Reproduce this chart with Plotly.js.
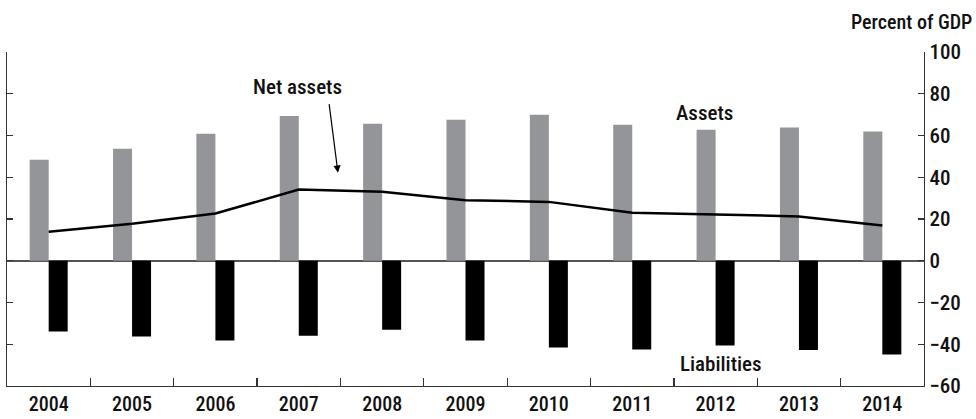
<!DOCTYPE html>
<html>
<head>
<meta charset="utf-8">
<script src="https://cdn.plot.ly/plotly-3.0.1.min.js"></script>
<style>html,body{margin:0;padding:0;background:#fff;}#chart{width:976px;height:419px;}</style>
</head>
<body>
<div id="chart"></div>
<script>
const years = ["2004","2005","2006","2007","2008","2009","2010","2011","2012","2013","2014"];
const assets = [48.4, 53.6, 60.8, 69.4, 65.6, 67.5, 69.9, 65.1, 62.7, 63.8, 61.9];
const liabilities = [-33.9, -36.3, -38.2, -35.9, -33.0, -38.2, -41.6, -42.5, -40.6, -42.8, -44.9];
const netAssets = [13.9, 17.7, 22.6, 34.1, 33.0, 29.0, 28.2, 23.0, 22.2, 21.2, 16.9];
const yTicks = [-60, -40, -20, 0, 20, 40, 60, 80, 100];

const FONT = '"Roboto Condensed", "Roboto", sans-serif';
function f(size) { return {family: FONT, size: size, color: '#111', weight: 500}; }

const traces = [
  {type: 'bar', x: years, y: assets, name: 'Assets', marker: {color: '#939598'}, hoverinfo: 'none'},
  {type: 'bar', x: years, y: liabilities, name: 'Liabilities', marker: {color: '#000000'}, hoverinfo: 'none'},
  {type: 'scatter', mode: 'lines', x: years, y: netAssets, name: 'Net assets', line: {color: '#000', width: 2.5}, hoverinfo: 'none'}
];

const layout = {
  width: 976, height: 419,
  margin: {l: 7, r: 52, t: 52, b: 33},
  paper_bgcolor: '#fff', plot_bgcolor: '#fff',
  showlegend: false,
  barmode: 'group', bargap: 0.544, bargroupgap: 0,
  font: f(21),
  xaxis: {
    type: 'category', showgrid: false, zeroline: false,
    showline: true, linecolor: '#333', linewidth: 1.2,
    ticks: 'inside', tickson: 'boundaries', ticklen: 8, tickcolor: '#333', tickwidth: 1.2,
    tickfont: f(20), ticklabelstandoff: 0
  },
  yaxis: {
    range: [-60, 100], side: 'right', tickvals: yTicks,
    showgrid: false, zeroline: true, zerolinecolor: '#555', zerolinewidth: 1.5,
    showline: true, linecolor: '#333', linewidth: 1.2, mirror: 'ticks',
    ticks: 'inside', ticklen: 6, tickcolor: '#333', tickwidth: 1.2,
    tickfont: f(21)
  },
  annotations: [
    {xref: 'paper', yref: 'paper', x: 1.0545, y: 1.09, xanchor: 'right', yanchor: 'middle', text: 'Percent of GDP', showarrow: false, font: f(20)},
    {x: 2.99, y: 83.2, text: 'Net assets', showarrow: false, font: f(21)},
    {x: 3.47, y: 42.2, text: '', showarrow: true, ax: -9, ay: -70, arrowhead: 2, arrowsize: 1.2, arrowwidth: 1.2, arrowcolor: '#000', standoff: 0},
    {x: 7.87, y: 70.8, text: 'Assets', showarrow: false, font: f(21)},
    {x: 8.06, y: -49.3, text: 'Liabilities', showarrow: false, font: f(21)}
  ]
};

Plotly.newPlot('chart', traces, layout, {staticPlot: true, displayModeBar: false});
</script>
</body>
</html>
